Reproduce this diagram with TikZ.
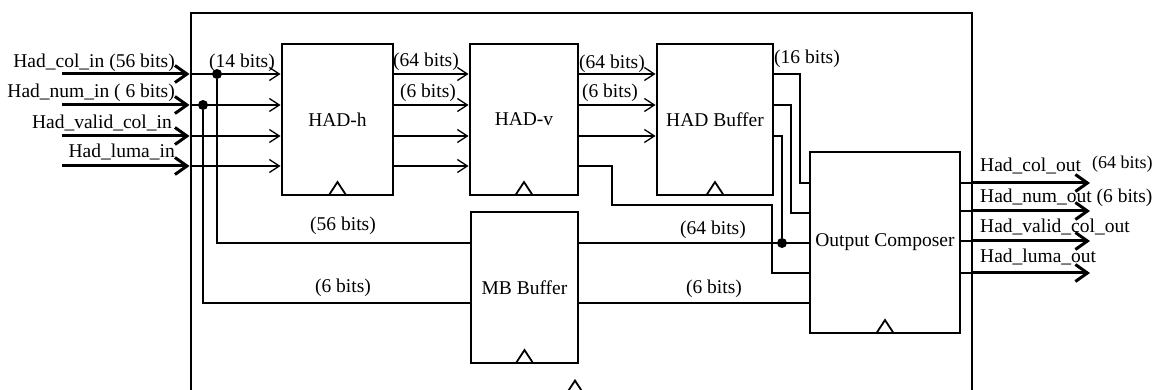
\documentclass[tikz,border=0pt]{standalone}
\usepackage{fontspec}
\setmainfont{Liberation Serif}
\usetikzlibrary{positioning, calc, arrows.meta}

\tikzset{
  block/.style={draw, line width=2.9pt, inner sep=0pt},
  wire/.style={line width=1.3pt},
  sig/.style={wire, -{Straight Barb[length=10pt, width=13pt, line width=1.3pt]}},
  bus/.style={line width=3pt, -{Straight Barb[length=12pt, width=17pt, line width=3pt]}},
  jdot/.style={circle, fill=black, inner sep=0pt, minimum size=10pt},
  bits/.style={inner sep=0pt},
  pinlabel/.style={inner sep=0pt},
  clk/.style={line width=1.8pt, line join=miter}
}
\newcommand{\clktri}[1]{\draw[clk] ($(#1.south)+(-8.5,-1.4)$) -- ++(8.5,-13) -- ++(8.5,13);}

\begin{document}
\begin{tikzpicture}[x=1pt, y=-1pt, every node/.style={font=\fontsize{19.5}{22}\selectfont}]
    \useasboundingbox (0,0) rectangle (1160,390);

    % rows of the signals
    \foreach \i/\y in {1/74,2/105,3/136,4/166} \coordinate (r\i) at (62,\y);
    \foreach \i/\y in {1/183,2/211,3/241,4/273} \coordinate (q\i) at (1090,\y);
    \foreach \i/\y in {1/183,2/213,3/243,4/273,5/303} \coordinate (c\i) at (0,\y);

    % blocks
    \node[block, minimum width=781pt, minimum height=382pt] (chip) at (581.5,204) {};
    \node[block, minimum width=111pt, minimum height=151pt] (hadh) at (337.5,119.5) {HAD-h};
    \node[block, minimum width=108pt, minimum height=151pt] (hadv) at (524,119.5) {HAD-v};
    \node[block, minimum width=116pt, minimum height=151pt] (hadbuf) at (715,119.5) {HAD Buffer};
    \node[block, minimum width=107pt, minimum height=151pt] (mb) at (524.5,287.5) {MB Buffer};
    \node[block, minimum width=150pt, minimum height=181pt] (oc) at (885,242.5) {Output Composer};

    \foreach \b in {hadh,hadv,hadbuf,mb,oc} {\clktri{\b}}
    \draw[clk] (566.5,393.6) -- ++(8.5,-13) -- ++(8.5,13);

    % inputs
    \node[pinlabel, anchor=base east] (in1) at (175,68) {Had\_col\_in (56 bits)};
    \node[pinlabel, anchor=base east] (in2) at (175,98) {Had\_num\_in ( 6 bits)};
    \node[pinlabel, anchor=base east] (in3) at (172,129) {Had\_valid\_col\_in};
    \node[pinlabel, anchor=base east] (in4) at (175,158) {Had\_luma\_in};
    \foreach \i in {1,...,4} {
        \draw[bus] (r\i) -- (chip.west |- r\i);
        \draw[sig] (chip.west |- r\i) -- (hadh.west |- r\i);
        \draw[sig] (hadh.east |- r\i) -- (hadv.west |- r\i);
    }
    \foreach \i in {1,2,3} \draw[sig] (hadv.east |- r\i) -- (hadbuf.west |- r\i);

    % to the MB buffer
    \node[jdot] (j1) at (217,74) {};
    \node[jdot] (j2) at (203,105) {};
    \draw[wire] (j1) |- (mb.west |- c3);
    \draw[wire] (j2) |- (mb.west |- c5);

    % to the output composer
    \draw[wire] (hadv.east |- r4) -| (612,205) -| (772,273) -- (oc.west |- c4);
    \draw[wire] (hadbuf.east |- r1) -| (800,183) -- (oc.west |- c1);
    \draw[wire] (hadbuf.east |- r2) -| (791,213) -- (oc.west |- c2);
    \node[jdot] (j3) at (782,243) {};
    \draw[wire] (hadbuf.east |- r3) -| (j3);
    \draw[wire] (mb.east |- c3) -- (oc.west |- c3);
    \draw[wire] (mb.east |- c5) -- (oc.west |- c5);

    % widths
    \node[bits] (b14) at (242,63) {(14 bits)};
    \node[bits] (b64a) at (426,62) {(64 bits)};
    \node[bits] (b6a) at (428,93) {(6 bits)};
    \node[bits] (b64b) at (612,64) {(64 bits)};
    \node[bits] (b6b) at (610,93) {(6 bits)};
    \node[bits] (b16) at (807,59) {(16 bits)};
    \node[bits] (b56) at (343,226) {(56 bits)};
    \node[bits] (b6c) at (343,288) {(6 bits)};
    \node[bits] (b64c) at (713,230) {(64 bits)};
    \node[bits] (b6d) at (714,289) {(6 bits)};

    % outputs
    \foreach \i in {1,...,4} {
        \draw[wire] (oc.east |- q\i) -- (chip.east |- q\i);
        \draw[bus] (chip.east |- q\i) -- (q\i);
    }
    \node[pinlabel, anchor=base west] (out1) at (980,172) {Had\_col\_out};
    \node[pinlabel, anchor=base west, font=\fontsize{18}{20}\selectfont] (out1w) at (1092,169) {(64 bits)};
    \node[pinlabel, anchor=base west] (out2) at (980,203) {Had\_num\_out (6 bits)};
    \node[pinlabel, anchor=base west] (out3) at (980,233) {Had\_valid\_col\_out};
    \node[pinlabel, anchor=base west] (out4) at (980,263) {Had\_luma\_out};
\end{tikzpicture}
\end{document}
